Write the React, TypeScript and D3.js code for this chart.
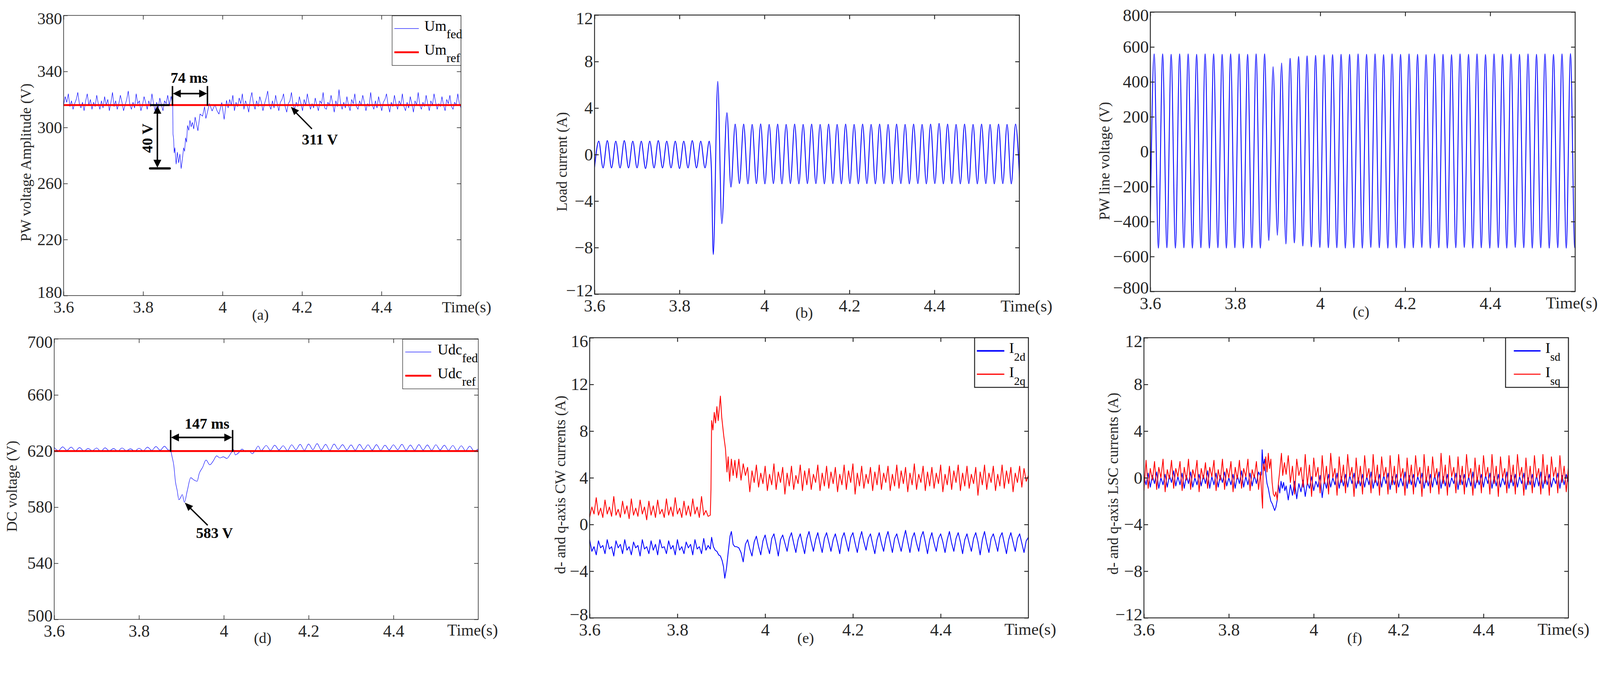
import React, { useEffect, useRef } from 'react';
import * as d3 from 'd3';

type Pt = { t: number; v: number };

const FONT = '"Liberation Serif", "Times New Roman", Times, serif';
const INK = '#262626';
const BLUE = '#0000ff';
const RED = '#ff0000';

// shared time axis (s)
const timeDomain: [number, number] = [3.6, 4.6];
const timeTicks = [3.6, 3.8, 4, 4.2, 4.4];

// (a) PW voltage amplitude (V)
const umTicks = [180, 220, 260, 300, 340, 380];
const umRef = 316;
const umFedBefore = [316, 322, 318, 324, 315, 319, 313, 317, 320, 325, 317, 314, 318, 312, 319, 324, 316, 320, 313, 318,
  315, 323, 317, 313, 319, 314, 322, 316, 320, 312, 318, 325, 315, 319, 313, 317, 323, 318, 312, 316,
  320, 326, 316, 313, 318, 314, 324, 317, 319, 312, 316, 322, 318, 313, 319, 315, 324, 317, 312, 318,
  314, 321, 316, 312, 319, 317, 323, 316];
const umFedDip = [[3.8706, 322.2], [3.8747, 316], [3.8753, 295.3], [3.8769, 291.8], [3.8784, 281.9], [3.88, 285.5],
  [3.8832, 273.9], [3.8862, 282.4], [3.8895, 274.8], [3.8926, 281], [3.8958, 270.7], [3.899, 277.4], [3.902, 285.5],
  [3.9045, 283], [3.907, 292.6], [3.9095, 289.5], [3.9118, 301.4], [3.915, 298], [3.918, 305.1], [3.921, 300.5],
  [3.924, 303.6], [3.9275, 299], [3.931, 307.4], [3.938, 297.7], [3.9434, 309.6], [3.9497, 308.1], [3.9548, 314.8],
  [3.958, 306.5], [3.9609, 309.6], [3.967, 317.1], [3.9737, 311.8], [3.981, 316.3], [3.986, 312], [3.991, 309.6],
  [3.998, 317.8], [4.004, 305.8], [4.01, 319.3]];
const umFedAfter = [314, 320, 316, 323, 312, 318, 315, 321, 317, 324, 313, 319, 316, 311, 320, 325, 317, 313, 319, 315,
  322, 318, 312, 317, 321, 326, 316, 313, 319, 314, 323, 317, 312, 318, 320, 324, 315, 311, 317, 319,
  325, 316, 313, 318, 315, 322, 317, 312, 320, 316, 324, 318, 313, 317, 314, 321, 316, 312, 319, 317,
  325, 314, 313, 318, 316, 323, 317, 311, 319, 315, 327, 317, 313, 318, 314, 322, 316, 312, 320, 317,
  324, 315, 313, 319, 316, 323, 318, 312, 317, 315, 325, 316, 313, 319, 314, 322, 317, 312, 318, 320,
  324, 316, 311, 318, 315, 323, 317, 313, 319, 316, 324, 315, 312, 318, 314, 322, 317, 311, 319, 316,
  325, 316, 313, 318, 315, 323, 317, 312, 319, 316, 324, 318, 313, 317, 315, 322, 316, 312, 320, 317,
  323, 315, 313, 318, 316, 324, 317, 314];

// (b) load current (A): alternating troughs / peaks every 10 ms
const loadTicks = [-12, -8, -4, 0, 4, 8, 12];
const loadBefore = [-1.1, 1.15, -1.15, 1.2, -1.15, 1.15, -1.15, 1.2, -1.15, 1.15,
  -1.15, 1.15, -1.2, 1.15, -1.15, 1.2, -1.15, 1.15, -1.15, 1.15,
  -1.2, 1.15, -1.15, 1.2, -1.15, 1.15, -1.15, 1.15];
const loadTransient = [[3.875, -1.2], [3.8795, -8.6], [3.89, 6.3], [3.8996, -5.95], [3.9116, 3.6], [3.921, -2.8], [3.931, 2.62]];
const loadAfter = [-2.5, 2.62, -2.52, 2.6, -2.5, 2.64, -2.52, 2.6, -2.5, 2.62,
  -2.52, 2.6, -2.5, 2.62, -2.52, 2.6, -2.5, 2.62, -2.5, 2.6,
  -2.52, 2.62, -2.5, 2.6, -2.52, 2.62, -2.5, 2.6, -2.52, 2.62,
  -2.5, 2.6, -2.52, 2.62, -2.5, 2.6, -2.52, 2.62, -2.5, 2.6,
  -2.52, 2.62, -2.5, 2.6, -2.52, 2.62, -2.5, 2.68, -2.52, 2.62,
  -2.5, 2.6, -2.52, 2.62, -2.5, 2.6, -2.52, 2.62, -2.5, 2.6,
  -2.52, 2.62, -2.5, 2.6, -2.52, 2.62, -2.5];

// (c) PW line voltage (V): troughs / peaks every 10 ms from 3.599 s
const lineTicks = [-800, -600, -400, -200, 0, 200, 400, 600, 800];
const lineExtrema = [-550, 560, -552, 560, -550, 558, -552, 560, -550, 560,
  -552, 558, -550, 560, -552, 560, -550, 558, -552, 560,
  -550, 560, -552, 558, -550, 560, -552, 560,
  -508, 487, -478, 508, -528, 535, -522, 545, -540, 549, -545, 552,
  -548, 555, -550, 556, -550, 558, -552, 558, -550, 560,
  -552, 558, -548, 560, -550, 556, -552, 560, -550, 558,
  -552, 560, -550, 558, -548, 556, -552, 560, -550, 558,
  -552, 556, -550, 560, -548, 558, -552, 560, -550, 556,
  -552, 560, -550, 558, -552, 560, -548, 558, -550, 560,
  -552, 558, -550, 560, -552, 558, -550, 560, -552, 562,
  -550, 560];

// (d) DC voltage (V)
const udcTicks = [500, 540, 580, 620, 660, 700];
const udcRef = 620;
const udcBefore = [622.5, 620.3, 623, 620.5, 622.8, 620.2, 622.5, 620, 621.8, 620.3,
  622.2, 619.8, 622.3, 620.2, 621.8, 620, 622.2, 620.3, 621.6, 619.9,
  622, 620.2, 622.8, 620.5, 623.2, 620.6, 623.4, 620.6];
const udcDip = [[3.874, 620.8], [3.878, 615.9], [3.882, 609.9], [3.886, 598], [3.89, 592], [3.894, 585.3],
  [3.898, 586.8], [3.902, 589], [3.907, 583.5], [3.914, 592], [3.922, 601], [3.929, 599.5], [3.937, 598.5],
  [3.942, 604], [3.95, 608.4], [3.958, 613.6], [3.967, 610.2], [3.975, 612.9], [3.983, 616.6], [3.991, 615.1],
  [3.999, 615.9], [4.007, 614.7], [4.015, 617.6], [4.023, 621], [4.027, 617.3], [4.035, 618.8], [4.043, 621.4],
  [4.051, 619.6], [4.059, 620.3], [4.067, 618.1], [4.075, 621], [4.081, 623.6], [4.088, 620.3]];
const udcAfter = [624, 620.5, 624.2, 620.8, 623.8, 620.3, 624.5, 621, 624.8, 620.5,
  625, 621, 625.3, 620.8, 624.8, 620.5, 625, 621.2, 624.6, 620.8,
  624.4, 620.6, 624.8, 621, 624.5, 620.7, 624.6, 620.5, 624.2, 620.8,
  624.5, 621, 624.8, 620.6, 624.3, 620.5, 624.6, 620.8, 624.4, 620.5,
  624.5, 620.8, 624.2, 620.5, 624, 620.3, 623.8, 620.2, 623.5, 620,
  621.5];

// (e) CW d/q currents (A), 5 ms samples
const cwTicks = [-8, -4, 0, 4, 8, 12, 16];
const i2qBefore = [0.6, 1.5, 0.9, 2.3, 0.8, 1.4, 0.6, 2.1, 0.9, 1.5, 0.7, 2.4, 0.8, 1.3, 0.6, 2.0, 0.9, 1.6, 0.5, 2.2,
  0.8, 1.4, 0.7, 2.1, 0.9, 1.5, 0.4, 2.0, 0.8, 1.6, 0.6, 2.1, 0.9, 1.3, 0.6, 2.2, 0.8, 1.5, 0.7, 2.3,
  0.9, 1.4, 0.6, 2.0, 0.8, 1.6, 0.7, 2.2, 0.9, 1.5, 0.6, 2.4, 0.8, 1.2, 0.7, 0.8];
const i2qStep = [[3.8765, 3.0], [3.878, 8.9], [3.881, 8.1], [3.884, 9.6], [3.887, 8.7], [3.89, 10.1], [3.893, 8.9],
  [3.898, 11.0], [3.901, 9.2], [3.9056, 7.6], [3.9095, 6.5], [3.913, 4.5], [3.9157, 5.8], [3.919, 3.7],
  [3.923, 5.6], [3.927, 4.2], [3.931, 5.5]];
const i2qAfter = [4.0, 5.6, 3.8, 5.2, 4.2, 4.9, 2.8, 4.6, 3.6, 5.1, 3.2, 4.4, 3.5, 5.0, 2.9, 4.3, 3.4, 5.2, 3.0, 4.5,
  3.6, 4.9, 2.6, 4.4, 3.3, 5.0, 3.0, 4.2, 3.5, 5.1, 2.9, 4.6, 3.4, 4.8, 3.0, 4.3, 3.6, 5.1, 2.9, 4.4,
  3.3, 5.0, 3.1, 4.5, 3.5, 4.9, 2.8, 4.3, 3.4, 5.1, 3.0, 4.6, 3.6, 5.2, 2.6, 4.4, 3.3, 5.0, 3.1, 4.3,
  3.5, 4.9, 2.9, 4.5, 3.4, 5.1, 3.0, 4.4, 3.6, 5.0, 2.9, 4.3, 3.3, 5.1, 3.1, 4.6, 3.5, 4.9, 2.8, 4.4,
  3.4, 5.2, 3.0, 4.3, 3.6, 5.0, 2.9, 4.5, 3.3, 4.9, 3.1, 4.4, 3.5, 5.1, 2.8, 4.3, 3.4, 5.0, 3.0, 4.6,
  3.6, 5.1, 2.9, 4.4, 3.3, 5.0, 3.1, 4.3, 3.5, 4.9, 2.5, 4.5, 3.4, 5.1, 3.0, 4.4, 3.6, 5.0, 2.9, 4.3,
  3.3, 5.1, 3.1, 4.6, 3.5, 4.9, 2.8, 4.4, 3.6, 5.0, 3.2, 4.8, 3.7, 4.2];
const i2dBefore = [-1.3, -2.3, -1.9, -2.6, -1.4, -2.0, -1.8, -2.5, -1.3, -2.1, -1.9, -2.7, -1.4, -2.0, -1.7, -2.5,
  -1.3, -2.2, -1.9, -2.6, -1.5, -2.0, -1.8, -2.7, -1.3, -2.1, -1.9, -2.5, -1.4, -2.2, -1.7, -2.6,
  -1.3, -2.0, -1.9, -2.5, -1.4, -2.1, -1.8, -2.6, -1.3, -2.2, -1.9, -2.5, -1.5, -2.0, -1.7, -2.6,
  -1.3, -2.1, -1.9, -2.5, -1.2, -2.2, -1.8, -2.1];
const i2dDip = [[3.878, -1.1], [3.882, -1.9], [3.886, -2.2], [3.89, -2.3], [3.894, -2.6], [3.898, -2.7], [3.902, -3.1],
  [3.905, -3.6], [3.908, -4.6], [3.912, -3.7], [3.916, -2.3], [3.92, -1.0], [3.923, -0.6], [3.927, -1.7], [3.931, -1.9]];
const i2dAfter = [-1.9, -2.0, -2.4, -3.2, -1.7, -1.3, -2.1, -2.7, -1.5, -1.0, -1.9, -2.6, -1.4, -0.9, -1.8, -2.5,
  -1.2, -0.8, -1.7, -2.7, -1.3, -0.9, -1.6, -2.3, -1.2, -0.7, -1.6, -2.4, -1.3, -0.8, -1.7, -2.5,
  -1.2, -0.6, -1.5, -2.3, -1.3, -0.7, -1.6, -2.4, -1.2, -0.7, -1.5, -2.3, -1.3, -0.8, -1.6, -2.5,
  -1.2, -0.7, -1.5, -2.3, -1.1, -0.7, -1.6, -2.4, -1.3, -0.6, -1.5, -2.2, -1.2, -0.8, -1.7, -2.5,
  -1.3, -0.7, -1.6, -2.3, -1.2, -0.6, -1.5, -2.4, -1.2, -0.8, -1.6, -2.3, -1.3, -0.5, -1.5, -2.4,
  -1.2, -0.7, -1.6, -2.3, -1.1, -0.6, -1.5, -2.5, -1.3, -0.7, -1.6, -2.3, -1.2, -0.8, -1.5, -2.4,
  -1.3, -0.6, -1.6, -2.3, -1.2, -0.7, -1.5, -2.5, -1.3, -0.8, -1.6, -2.3, -1.2, -0.7, -1.5, -2.6,
  -1.3, -0.6, -1.6, -2.4, -1.2, -0.8, -1.5, -2.3, -1.1, -0.7, -1.6, -2.5, -1.3, -0.7, -1.5, -2.3,
  -1.2, -0.8, -1.6, -2.4, -1.4, -1.1];

// (f) LSC d/q currents (A), 5 ms samples
const lscTicks = [-12, -8, -4, 0, 4, 8, 12];
const isdBefore = [0.1, -0.6, 0.4, -0.8, 0.2, -0.5, 0.5, -0.9, 0.0, -0.6, 0.3, -0.8, 0.2, -0.4, 0.6, -0.7,
  0.1, -0.6, 0.4, -0.9, 0.2, -0.5, 0.5, -0.8, 0.0, -0.6, 0.3, -0.7, 0.2, -0.5, 0.6, -0.9,
  0.1, -0.6, 0.4, -0.8, 0.2, -0.4, 0.5, -0.7, 0.0, -0.6, 0.3, -0.9, 0.2, -0.5, 0.6, -0.8,
  0.1, -0.6, 0.4, -0.7, 0.2, -0.5, 0.5, 0.1];
const isdDip = [[3.877, 0.3], [3.8785, 2.4], [3.881, 1.0], [3.884, 1.6], [3.887, 0.4], [3.89, -0.5], [3.893, -0.9],
  [3.896, -1.5], [3.899, -2.0], [3.902, -2.2], [3.905, -2.5], [3.908, -2.8], [3.911, -2.5], [3.914, -1.9],
  [3.917, -0.6], [3.92, -1.3], [3.923, -0.3], [3.926, -0.9], [3.929, -0.4], [3.932, -1.1]];
const isdAfter = [-0.7, -1.9, -0.6, -1.5, -0.3, -1.8, -0.5, -1.2, -0.2, -1.6, -0.4, -0.9, 0.1, -1.1, -0.3, -0.8,
  0.2, -1.7, -0.2, -0.9, 0.3, -0.8, 0.0, -0.6, 0.4, -0.9, 0.1, -0.7, 0.3, -0.8, 0.2, -0.5,
  0.4, -0.9, 0.0, -0.7, 0.3, -0.8, 0.1, -0.6, 0.5, -0.9, 0.0, -0.7, 0.3, -0.8, 0.2, -0.5,
  0.4, -1.0, 0.1, -0.6, 0.3, -0.8, 0.0, -0.7, 0.5, -0.9, 0.2, -0.6, 0.3, -0.8, 0.1, -0.5,
  0.4, -0.9, 0.0, -0.7, 0.3, -0.8, 0.2, -0.6, 0.5, -0.9, 0.1, -0.7, 0.3, -0.8, 0.0, -0.5,
  0.4, -1.0, 0.2, -0.6, 0.3, -0.8, 0.1, -0.7, 0.5, -0.9, 0.0, -0.6, 0.3, -0.8, 0.2, -0.5,
  0.4, -0.9, 0.1, -0.7, 0.3, -0.8, 0.0, -0.6, 0.5, -0.9, 0.2, -0.7, 0.3, -0.8, 0.1, -0.5,
  0.4, -1.0, 0.0, -0.6, 0.3, -0.8, 0.2, -0.7, 0.5, -0.9, 0.1, -0.6, 0.3, -0.8, 0.0, -0.5,
  0.4, -0.9, 0.2, -0.6, 0.3, -0.4];
const isqBefore = [-1.1, 1.5, -0.9, 0.8, -0.2, 1.4, -1.0, 0.9, 0.0, 1.6, -1.2, 0.7, -0.1, 1.5, -0.9, 0.8,
  0.1, 1.4, -1.1, 0.9, -0.2, 1.6, -1.0, 0.7, 0.0, 1.5, -1.2, 0.8, -0.1, 1.3, -0.9, 0.9,
  0.1, 1.5, -1.1, 0.7, -0.2, 1.6, -1.0, 0.8, 0.0, 1.4, -1.2, 0.9, -0.1, 1.5, -0.9, 0.8,
  0.1, 1.6, -1.1, 0.7, 0.0, 1.4, -1.0, 0.5];
const isqDip = [[3.876, -0.5], [3.8795, -2.6], [3.881, 1.2], [3.884, 0.6], [3.887, 1.8], [3.89, 0.5], [3.893, 2.1],
  [3.896, 0.8], [3.899, 1.6], [3.902, -0.4], [3.905, -1.4], [3.908, -1.6], [3.911, -1.2], [3.914, -1.9],
  [3.917, -0.4], [3.92, 0.6], [3.924, 2.1], [3.927, 0.2], [3.931, 1.3]];
const isqAfter = [0.3, 1.9, -0.4, 1.0, -1.4, 1.6, 0.2, 0.9, -0.8, 2.0, -0.6, 1.1, -1.6, 1.7, 0.1, 0.9,
  -1.3, 1.9, -0.5, 1.0, -1.4, 2.1, 0.0, 0.8, -1.5, 1.8, -0.4, 1.1, -1.3, 2.0, 0.1, 0.9,
  -1.6, 1.7, -0.5, 1.0, -1.4, 1.9, 0.0, 0.8, -1.3, 2.0, -0.4, 1.1, -1.5, 1.8, 0.1, 0.9,
  -1.4, 1.9, -0.6, 1.0, -1.3, 2.0, 0.0, 0.8, -1.5, 1.7, -0.5, 1.1, -1.4, 1.9, 0.1, 0.9,
  -1.6, 2.0, -0.4, 1.0, -1.3, 1.8, 0.0, 0.8, -1.4, 2.1, -0.5, 1.1, -1.5, 1.9, 0.1, 0.9,
  -1.3, 1.8, -0.6, 1.0, -1.4, 2.0, 0.0, 0.8, -1.5, 1.7, -0.4, 1.1, -1.3, 1.9, 0.1, 0.9,
  -1.4, 2.0, -0.5, 1.0, -1.6, 1.8, 0.0, 0.8, -1.3, 1.9, -0.4, 1.1, -1.4, 2.0, 0.1, 0.9,
  -1.5, 1.7, -0.6, 1.0, -1.3, 1.9, 0.0, 0.8, -1.4, 2.0, -0.5, 1.1, -1.5, 1.8, 0.1, 0.9,
  -1.3, 1.9, -0.4, 1.0, -1.2, 0.9];

// annotation values (in data units)
const umNotes = {
  settleT: [3.874, 3.962], settleV: 324.2, settleTop: 329.6, settleText: '74 ms', settleTextAt: [3.916, 332],
  dropT: 3.836, dropBarT: [3.8176, 3.867], dropV: [316, 270.8], dropText: '40 V', dropTextAt: [3.8233, 292.3],
  refTip: [4.172, 314.8], refTail: [4.225, 299], refText: '311 V', refTextAt: [4.245, 288],
};
const udcNotes = {
  settleT: [3.8746, 4.0207], settleV: 629.7, settleTop: 635, settleText: '147 ms', settleTextAt: [3.9605, 636],
  minTip: [3.908, 583.2], minTail: [3.962, 567.1], minText: '583 V', minTextAt: [3.978, 558],
};

const spread = (t0: number, t1: number, vals: number[]): Pt[] =>
  vals.map((v, i) => ({ t: t0 + ((t1 - t0) * i) / (vals.length - 1), v }));
const pairs = (rows: number[][]): Pt[] => rows.map(([t, v]) => ({ t, v }));
const fmt = (d: number) => (d < 0 ? '\u2212' + Math.abs(d) : String(d));

interface Series { pts: Pt[]; color: string; width: number; curve: d3.CurveFactory }
interface LegendItem { color: string; width: number; main: string; sub: string; lineY: number; baseline: number }
interface Panel {
  id: string;
  box: [number, number, number, number];
  yDomain: [number, number];
  yTicks: number[];
  tickFont: number;
  frame: number;
  yLabel: string;
  yLabelAt: [number, number];
  tag: string;
  tagAt: [number, number];
  timeAt: [number, number];
  series: Series[];
  refLine?: number;
  legend?: {
    box: [number, number, number, number]; stroke: number; lineX: [number, number]; textX: number;
    font: number; subFont: number; subDy: number; items: LegendItem[];
  };
}

const panels: Panel[] = [
  {
    id: 'a', box: [169, 41, 1225, 786], yDomain: [180, 380], yTicks: umTicks, tickFont: 44, frame: 1.6,
    yLabel: 'PW voltage Amplitude (V)', yLabelAt: [82, 432], tag: '(a)', tagAt: [692, 850], timeAt: [1240, 830],
    series: [{ pts: [...spread(3.6, 3.866, umFedBefore), ...pairs(umFedDip), ...spread(4.014, 4.6, umFedAfter)], color: BLUE, width: 1.2, curve: d3.curveLinear }],
    refLine: umRef,
    legend: {
      box: [1042, 42, 1225, 174], stroke: 1.3, lineX: [1048, 1113], textX: 1128, font: 39, subFont: 33, subDy: 20,
      items: [
        { color: BLUE, width: 1.3, main: 'Um', sub: 'fed', lineY: 76, baseline: 82 },
        { color: RED, width: 5, main: 'Um', sub: 'ref', lineY: 139, baseline: 145 },
      ],
    },
  },
  {
    id: 'b', box: [1580, 40, 2709, 782], yDomain: [-12, 12], yTicks: loadTicks, tickFont: 46, frame: 2.4,
    yLabel: 'Load current (A)', yLabelAt: [1506, 430], tag: '(b)', tagAt: [2137, 845], timeAt: [2728, 828],
    series: [{ pts: [...spread(3.6, 3.87, loadBefore), ...pairs(loadTransient), ...spread(3.941, 4.601, loadAfter)], color: BLUE, width: 2.3, curve: d3.curveMonotoneX }],
  },
  {
    id: 'c', box: [3057, 32, 4186, 775], yDomain: [-800, 800], yTicks: lineTicks, tickFont: 46, frame: 2.4,
    yLabel: 'PW line voltage (V)', yLabelAt: [2948, 428], tag: '(c)', tagAt: [3617, 842], timeAt: [4177, 820],
    series: [{ pts: spread(3.599, 4.609, lineExtrema), color: BLUE, width: 2.3, curve: d3.curveMonotoneX }],
  },
  {
    id: 'd', box: [144, 901, 1271, 1647], yDomain: [500, 700], yTicks: udcTicks, tickFont: 45, frame: 1.6,
    yLabel: 'DC voltage (V)', yLabelAt: [45, 1293], tag: '(d)', tagAt: [698, 1710], timeAt: [1256, 1690],
    series: [{ pts: [...spread(3.6, 3.87, udcBefore), ...pairs(udcDip), ...spread(4.1, 4.6, udcAfter)], color: BLUE, width: 1.2, curve: d3.curveMonotoneX }],
    refLine: udcRef,
    legend: {
      box: [1070, 902, 1271, 1034], stroke: 1.3, lineX: [1077, 1146], textX: 1163, font: 39, subFont: 33, subDy: 20,
      items: [
        { color: BLUE, width: 1.3, main: 'Udc', sub: 'fed', lineY: 936, baseline: 943 },
        { color: RED, width: 5, main: 'Udc', sub: 'ref', lineY: 999, baseline: 1006 },
      ],
    },
  },
  {
    id: 'e', box: [1567, 898, 2733, 1643], yDomain: [-8, 16], yTicks: cwTicks, tickFont: 46, frame: 2.4,
    yLabel: 'd- and q-axis CW currents (A)', yLabelAt: [1502, 1289], tag: '(e)', tagAt: [2141, 1710], timeAt: [2738, 1688],
    series: [
      { pts: [...spread(3.6, 3.875, i2dBefore), ...pairs(i2dDip), ...spread(3.935, 4.6, i2dAfter)], color: BLUE, width: 2.2, curve: d3.curveLinear },
      { pts: [...spread(3.6, 3.875, i2qBefore), ...pairs(i2qStep), ...spread(3.935, 4.6, i2qAfter)], color: RED, width: 2.2, curve: d3.curveLinear },
    ],
    legend: {
      box: [2590, 898, 2733, 1030], stroke: 2.6, lineX: [2596, 2669], textX: 2682, font: 39, subFont: 30, subDy: 21,
      items: [
        { color: BLUE, width: 4, main: 'I', sub: '2d', lineY: 933, baseline: 938 },
        { color: RED, width: 3, main: 'I', sub: '2q', lineY: 995, baseline: 1003 },
      ],
    },
  },
  {
    id: 'f', box: [3040, 898, 4168, 1643], yDomain: [-12, 12], yTicks: lscTicks, tickFont: 46, frame: 2.4,
    yLabel: 'd- and q-axis LSC currents (A)', yLabelAt: [2971, 1286], tag: '(f)', tagAt: [3600, 1710], timeAt: [4155, 1688],
    series: [
      { pts: [...spread(3.6, 3.875, isdBefore), ...pairs(isdDip), ...spread(3.935, 4.6, isdAfter)], color: BLUE, width: 2.2, curve: d3.curveLinear },
      { pts: [...spread(3.6, 3.875, isqBefore), ...pairs(isqDip), ...spread(3.935, 4.6, isqAfter)], color: RED, width: 2.2, curve: d3.curveLinear },
    ],
    legend: {
      box: [4001, 898, 4168, 1030], stroke: 2.6, lineX: [4023, 4094], textX: 4107, font: 39, subFont: 30, subDy: 21,
      items: [
        { color: BLUE, width: 3.5, main: 'I', sub: 'sd', lineY: 933, baseline: 938 },
        { color: RED, width: 2.6, main: 'I', sub: 'sq', lineY: 995, baseline: 1003 },
      ],
    },
  },
];

type Sel = d3.Selection<SVGGElement, unknown, null, undefined>;

function drawPanel(root: d3.Selection<SVGSVGElement, unknown, null, undefined>, p: Panel) {
  const [l, tp, r, bt] = p.box;
  const x = d3.scaleLinear().domain(timeDomain).range([l, r]);
  const y = d3.scaleLinear().domain(p.yDomain).range([bt, tp]);
  const g = root.append('g').attr('class', `panel-${p.id}`);

  const clipId = `clip-${p.id}`;
  g.append('clipPath').attr('id', clipId)
    .append('rect').attr('x', l).attr('y', tp).attr('width', r - l).attr('height', bt - tp);

  const plot = g.append('g').attr('clip-path', `url(#${clipId})`);
  p.series.forEach(s => {
    const line = d3.line<Pt>().x(d => x(d.t)).y(d => y(d.v)).curve(s.curve);
    plot.append('path')
      .attr('d', line(s.pts))
      .attr('fill', 'none')
      .attr('stroke', s.color)
      .attr('stroke-width', s.width)
      .attr('stroke-linejoin', 'round');
  });
  if (p.refLine !== undefined) {
    plot.append('line')
      .attr('x1', l).attr('x2', r)
      .attr('y1', y(p.refLine)).attr('y2', y(p.refLine))
      .attr('stroke', RED).attr('stroke-width', 5);
  }

  // MATLAB-style box with inward ticks on all sides
  const tick = 11;
  const styleAxis = (sel: Sel) => {
    sel.select('.domain').remove();
    sel.selectAll('line').attr('stroke', INK).attr('stroke-width', p.frame);
    sel.selectAll('text').attr('fill', INK).attr('font-family', FONT).attr('font-size', p.tickFont);
  };
  g.append('g').attr('transform', `translate(0,${bt})`)
    .call(d3.axisBottom(x).tickValues(timeTicks).tickSizeInner(-tick).tickSizeOuter(0).tickPadding(14).tickFormat(d => fmt(+d)))
    .call(styleAxis);
  g.append('g').attr('transform', `translate(0,${tp})`)
    .call(d3.axisTop(x).tickValues(timeTicks).tickSizeInner(-tick).tickSizeOuter(0).tickFormat(() => ''))
    .call(styleAxis);
  const left = g.append('g').attr('transform', `translate(${l},0)`)
    .call(d3.axisLeft(y).tickValues(p.yTicks).tickSizeInner(-tick).tickSizeOuter(0).tickPadding(4).tickFormat(d => fmt(+d)))
    .call(styleAxis);
  left.selectAll<SVGTextElement, number>('text')
    .attr('dy', d => (d === p.yDomain[1] ? '0.52em' : d === p.yDomain[0] ? '0.12em' : '0.32em'));
  g.append('g').attr('transform', `translate(${r},0)`)
    .call(d3.axisRight(y).tickValues(p.yTicks).tickSizeInner(-tick).tickSizeOuter(0).tickFormat(() => ''))
    .call(styleAxis);

  g.append('rect')
    .attr('x', l).attr('y', tp).attr('width', r - l).attr('height', bt - tp)
    .attr('fill', 'none').attr('stroke', INK).attr('stroke-width', p.frame);

  g.append('text')
    .attr('x', p.timeAt[0]).attr('y', p.timeAt[1])
    .attr('text-anchor', 'middle')
    .attr('font-family', FONT).attr('font-size', p.tickFont - 2).attr('fill', INK)
    .text('Time(s)');

  g.append('text')
    .attr('transform', `translate(${p.yLabelAt[0]},${p.yLabelAt[1]}) rotate(-90)`)
    .attr('text-anchor', 'middle')
    .attr('font-family', FONT).attr('font-size', 39).attr('fill', INK)
    .text(p.yLabel);

  g.append('text')
    .attr('x', p.tagAt[0]).attr('y', p.tagAt[1])
    .attr('text-anchor', 'middle')
    .attr('font-family', FONT).attr('font-size', 40).attr('fill', INK)
    .text(p.tag);

  if (p.legend) {
    const L = p.legend;
    g.append('rect')
      .attr('x', L.box[0]).attr('y', L.box[1])
      .attr('width', L.box[2] - L.box[0]).attr('height', L.box[3] - L.box[1])
      .attr('fill', '#fff').attr('stroke', INK).attr('stroke-width', L.stroke);
    L.items.forEach(it => {
      g.append('line')
        .attr('x1', L.lineX[0]).attr('x2', L.lineX[1])
        .attr('y1', it.lineY).attr('y2', it.lineY)
        .attr('stroke', it.color).attr('stroke-width', it.width);
      const txt = g.append('text')
        .attr('x', L.textX).attr('y', it.baseline)
        .attr('font-family', FONT).attr('font-size', L.font).attr('fill', '#000');
      txt.append('tspan').text(it.main);
      txt.append('tspan').attr('dy', L.subDy).attr('font-size', L.subFont).text(it.sub);
    });
  }

  return { g, x, y };
}

function head(g: Sel, tipX: number, tipY: number, fromX: number, fromY: number, len = 21, wid = 21) {
  const ang = (Math.atan2(tipY - fromY, tipX - fromX) * 180) / Math.PI;
  g.append('path')
    .attr('d', `M0,0L${-len},${-wid / 2}L${-len},${wid / 2}Z`)
    .attr('transform', `translate(${tipX},${tipY}) rotate(${ang})`)
    .attr('fill', '#000');
}

function seg(g: Sel, x1: number, y1: number, x2: number, y2: number, w = 4) {
  g.append('line')
    .attr('x1', x1).attr('y1', y1).attr('x2', x2).attr('y2', y2)
    .attr('stroke', '#000').attr('stroke-width', w);
}

function boldText(g: Sel, x: number, y: number, s: string, rotate = false) {
  const t = g.append('text')
    .attr('text-anchor', 'middle')
    .attr('font-family', FONT).attr('font-weight', 'bold').attr('font-size', 40).attr('fill', '#000')
    .text(s);
  if (rotate) t.attr('transform', `translate(${x},${y}) rotate(-90)`);
  else t.attr('x', x).attr('y', y);
}

function drawUmNotes(g: Sel, x: d3.ScaleLinear<number, number>, y: d3.ScaleLinear<number, number>) {
  const n = umNotes;
  const [s0, s1] = n.settleT.map(x);
  const sv = y(n.settleV);
  // settling-time bracket
  seg(g, s0, y(n.settleTop), s0, y(umRef) + 2);
  seg(g, s1, y(n.settleTop), s1, y(umRef) + 2);
  seg(g, s0 + 15, sv, s1 - 15, sv);
  head(g, s0 + 1, sv, s1, sv);
  head(g, s1 - 1, sv, s0, sv);
  boldText(g, x(n.settleTextAt[0]), y(n.settleTextAt[1]), n.settleText);
  // voltage drop bracket
  const dx = x(n.dropT);
  const [b0, b1] = n.dropBarT.map(x);
  const top = y(n.dropV[0]);
  const bot = y(n.dropV[1]);
  seg(g, b0, top, b1, top, 5);
  g.append('line').attr('x1', b0).attr('x2', b1).attr('y1', bot).attr('y2', bot)
    .attr('stroke', '#000').attr('stroke-width', 6).attr('stroke-linecap', 'round');
  seg(g, dx, top + 15, dx, bot - 15);
  head(g, dx, top + 2, dx, bot);
  head(g, dx, bot - 2, dx, top);
  boldText(g, x(n.dropTextAt[0]), y(n.dropTextAt[1]), n.dropText, true);
  // reference pointer
  const tip = [x(n.refTip[0]), y(n.refTip[1])];
  const tail = [x(n.refTail[0]), y(n.refTail[1])];
  seg(g, tail[0], tail[1], tip[0] + 8, tip[1] + 10, 3.5);
  head(g, tip[0], tip[1], tail[0], tail[1], 22, 18);
  boldText(g, x(n.refTextAt[0]), y(n.refTextAt[1]), n.refText);
}

function drawUdcNotes(g: Sel, x: d3.ScaleLinear<number, number>, y: d3.ScaleLinear<number, number>) {
  const n = udcNotes;
  const [s0, s1] = n.settleT.map(x);
  const sv = y(n.settleV);
  seg(g, s0, y(n.settleTop), s0, y(udcRef) + 2);
  seg(g, s1, y(n.settleTop), s1, y(udcRef) + 2);
  seg(g, s0 + 15, sv, s1 - 15, sv);
  head(g, s0 + 1, sv, s1, sv);
  head(g, s1 - 1, sv, s0, sv);
  boldText(g, x(n.settleTextAt[0]), y(n.settleTextAt[1]), n.settleText);
  const tip = [x(n.minTip[0]), y(n.minTip[1])];
  const tail = [x(n.minTail[0]), y(n.minTail[1])];
  seg(g, tail[0], tail[1], tip[0] + 10, tip[1] + 10, 3.5);
  head(g, tip[0], tip[1], tail[0], tail[1], 22, 18);
  boldText(g, x(n.minTextAt[0]), y(n.minTextAt[1]), n.minText);
}

export default function App() {
  const ref = useRef<SVGSVGElement>(null);

  useEffect(() => {
    if (!ref.current) return;
    const svg = d3.select(ref.current);
    svg.selectAll('*').remove();
    const drawn = panels.map(p => drawPanel(svg, p));
    drawUmNotes(drawn[0].g, drawn[0].x, drawn[0].y);
    drawUdcNotes(drawn[3].g, drawn[3].x, drawn[3].y);
  }, []);

  // scale to the page width so nothing is cut at the right edge
  return (
    <svg
      ref={ref}
      viewBox="0 0 4252 1729"
      style={{ position: 'absolute', left: 0, top: 0, width: '100%', height: 'auto', display: 'block', background: '#fff' }}
    />
  );
}
